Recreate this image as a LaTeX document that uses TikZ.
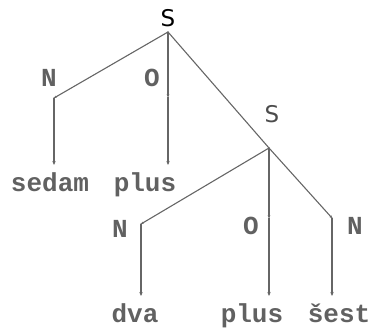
\documentclass[tikz,border=0pt]{standalone}
\usepackage{fontspec}
\setmainfont{Liberation Mono}
\newfontfamily\rootfont{DejaVu Sans}
\usetikzlibrary{arrows.meta}
\begin{document}
\begin{tikzpicture}[x=1pt,y=-1pt,
  edge/.style={draw=black!60, line width=1.1pt, line cap=round},
  inner/.style={edge, -{Stealth[length=2.6pt,width=2.6pt]}},
  leaf/.style={edge, -{Stealth[length=4pt,width=3.4pt]}},
  word/.style={font=\fontsize{26}{26}\selectfont\bfseries, text=black!62,
    inner sep=0pt, anchor=base},
  cat/.style={word},
  sym/.style={font=\rootfont\fontsize{23}{23}\selectfont, inner sep=0pt, anchor=base}]
\useasboundingbox (0,0) rectangle (382,328);

% branch points of the tree
\coordinate (s1) at (168,32);
\coordinate (n1) at (54,98);
\coordinate (o1) at (168,97);
\coordinate (s2) at (269,148);
\coordinate (n2) at (141,224);
\coordinate (o2) at (269,218);
\coordinate (n3) at (332,218);

% ends of the arrows above the words
\coordinate (e1) at (54,165);
\coordinate (e2) at (168,165);
\coordinate (e3) at (141,296);
\coordinate (e4) at (269,296);
\coordinate (e5) at (332,296);

% category labels
\node[sym, text=black] (S1) at (168,27) {S};
\node[sym, text=black!70] (S2) at (272,123) {S};
\node[cat] (N1) at (49,87) {N};
\node[cat] (O1) at (152,87) {O};
\node[cat] (N2) at (120,238) {N};
\node[cat] (O2) at (251,235) {O};
\node[cat] (N3) at (355,235) {N};

% words
\node[word] (w1) at (50,192) {sedam};
\node[word] (w2) at (145,192) {plus};
\node[word] (w3) at (135,322) {dva};
\node[word] (w4) at (252,322) {plus};
\node[word] (w5) at (339,322) {šest};

% upper tree
\draw[inner] (s1) -- (n1);
\draw[inner] (s1) -- (o1);
\draw[edge] (s1) -- (s2);
\draw[leaf] (n1) -- (e1);
\draw[leaf] (o1) -- (e2);

% lower tree
\draw[inner] (s2) -- (n2);
\draw[inner] (s2) -- (o2);
\draw[inner] (s2) -- (n3);
\draw[leaf] (n2) -- (e3);
\draw[leaf] (o2) -- (e4);
\draw[leaf] (n3) -- (e5);
\end{tikzpicture}
\end{document}
